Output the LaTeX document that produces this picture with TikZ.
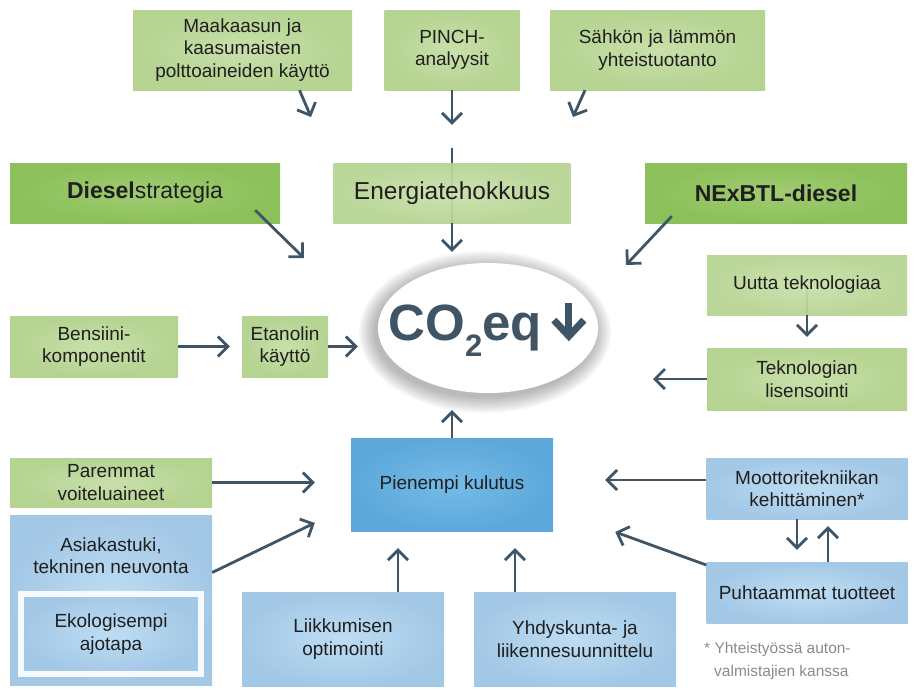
\documentclass[tikz,border=0pt]{standalone}
\usepackage{fontspec}
\setmainfont{Liberation Sans}
\usetikzlibrary{positioning, arrows.meta, shapes.geometric, backgrounds}

\definecolor{nuoli}{HTML}{3F5566}
\definecolor{vihrea}{HTML}{B5D391}
\definecolor{vihreakeski}{HTML}{C8E0AA}
\definecolor{tvihrea}{HTML}{8CC05A}
\definecolor{tvihreakeski}{HTML}{A0CC72}
\definecolor{sininen}{HTML}{A3C8E6}
\definecolor{sininenkeski}{HTML}{BEDDF3}
\definecolor{tsininen}{HTML}{5DA8DB}
\definecolor{tsininenkeski}{HTML}{74BBE7}
\definecolor{huomio}{HTML}{8A8A8A}

\tikzset{
  >={Straight Barb[length=10pt,width=20pt]},
  every node/.style={align=center, inner sep=0pt, text=black!88,
    font=\fontsize{19}{22.5}\selectfont},
  laatikko/.style={rectangle, minimum width=#1},
  vlaatikko/.style={laatikko=#1, inner color=vihreakeski, outer color=vihrea},
  tvlaatikko/.style={laatikko=#1, inner color=tvihreakeski, outer color=tvihrea,
    font=\fontsize{23}{26}\selectfont},
  slaatikko/.style={laatikko=#1, inner color=sininenkeski, outer color=sininen},
  nuolet/.style={->, draw=nuoli, line width=2.8pt},
}

\begin{document}
\begin{tikzpicture}[x=1pt, y=-1pt]
\useasboundingbox (0,0) rectangle (914,689);

% ylarivi
\node[vlaatikko=219, minimum height=80] (maakaasu) at (242.5,50) {Maakaasun ja\\kaasumaisten\\polttoaineiden käyttö};
\node[vlaatikko=135, minimum height=80] (pinch) at (452,50) {PINCH-\\analyysit};
\node[vlaatikko=215, minimum height=80] (sahko) at (657.5,50) {Sähkön ja lämmön\\yhteistuotanto};

\node[tvlaatikko=270, minimum height=60] (diesel) at (145,193) {\textbf{Diesel}strategia};
\node[vlaatikko=237, minimum height=60, fill opacity=0.93, text opacity=1,
  font=\fontsize{24.5}{26}\selectfont] (energia) at (452,193) {Energiatehokkuus};
\node[tvlaatikko=262, minimum height=60] (nexbtl) at (776,193) {\textbf{NExBTL-diesel}};

\node[vlaatikko=200, minimum height=60, fill opacity=0.93, text opacity=1] (uutta) at (807,285) {Uutta teknologiaa};
\node[vlaatikko=200, minimum height=62] (lisensointi) at (807,379) {Teknologian\\lisensointi};

\node[vlaatikko=168, minimum height=61] (bensiini) at (94,346.5) {Bensiini-\\komponentit};
\node[vlaatikko=86, minimum height=61] (etanoli) at (285,346.5) {Etanolin\\käyttö};

\node[ellipse, fill=white, minimum width=220, minimum height=130, inner xsep=-30pt, text=nuoli,
  font=\fontsize{51}{51}\selectfont\bfseries] (co2) at (488,328)
  {CO\raisebox{-0.32em}{\fontsize{31}{31}\selectfont 2}eq\,\tikz[baseline=0pt, x=1pt, y=1pt]{
    \draw[nuoli, line width=7pt] (0,37) -- (0,4);
    \draw[nuoli, line width=7pt, miter limit=4] (-15,20) -- (0,4) -- (15,20);}};

% alarivi
\node[laatikko=202, minimum height=93, inner color=tsininenkeski, outer color=tsininen] (pienempi) at (452,484.5) {Pienempi kulutus};

\node[vlaatikko=202, minimum height=49] (voitelu) at (111,482.5) {Paremmat\\voiteluaineet};
\node[slaatikko=202, minimum height=170] (asiakas) at (111,600.5) {};
\node (asiakasteksti) [below=22pt of asiakas.north] {Asiakastuki,\\tekninen neuvonta};
\node[slaatikko=180, minimum height=80, draw=white!90!sininen, line width=6pt] (ekolog) at (111,634) {Ekologisempi\\ajotapa};

\node[slaatikko=202, minimum height=94] (liikkuminen) at (343,639) {Liikkumisen\\optimointi};
\node[slaatikko=202, minimum height=94] (yhdyskunta) at (575,639) {Yhdyskunta- ja\\liikennesuunnittelu};

\node[slaatikko=201, minimum height=61] (moottori) at (807,488.5) {Moottoritekniikan\\kehittäminen*};
\node[slaatikko=201, minimum height=61] (puhtaammat) at (807,592.5) {Puhtaammat tuotteet};

\node[anchor=north west, align=left, text=huomio, font=\fontsize{15.5}{23}\selectfont] (huomautus) at (704,642)
  {* Yhteistyössä auton-\\\hspace{10pt}valmistajien kanssa};

\coordinate (maakaasukarki) at (311,117);
\coordinate (sahkokarki) at (573,117);
\coordinate (dieselkarki) at (304,258);
\coordinate (nexbtlkarki) at (626,265);
\coordinate (lisensointikarki) at (653,379);

\begin{scope}[on background layer]
  \foreach \s in {1,...,10}
    \fill[black, opacity=0.03] ([shift={(-3,4)}]co2.center) ellipse ({109+\s*1.7} and {64+\s*1.7});
  \draw[nuoli, line width=2.4pt] ([yshift=15pt]energia.north) -- (energia.south);
  \draw[nuoli, line width=2.4pt] (uutta.center) -- (uutta.south);
\end{scope}

\path ([xshift=57pt]maakaasu.south) edge[nuolet] (maakaasukarki)
      ([xshift=-72.5pt]sahko.south) edge[nuolet] (sahkokarki)
      ([shift={(-25pt,13pt)}]diesel.south east) edge[nuolet] (dieselkarki)
      ([shift={(27pt,7pt)}]nexbtl.south west) edge[nuolet] (nexbtlkarki)
      (lisensointi.west) edge[nuolet] (lisensointikarki);
\draw[nuolet, shorten >=38pt] (pinch.south) -- (energia.north);
\draw[nuolet, shorten >=11pt] (energia.south) -- (energia.south |- co2.north);
\draw[nuolet, shorten >=11pt] (uutta.south) -- (lisensointi.north);
\draw[nuolet, shorten >=12pt] (bensiini.east) -- (etanoli.west);
\draw[nuolet, shorten >=20pt] (etanoli.east) -- (etanoli.east -| co2.west);
\draw[nuolet, shorten >=17pt] (pienempi.north) -- (pienempi.north |- co2.south);

\draw[nuolet, shorten >=36pt] (voitelu.east) -- (voitelu.east -| pienempi.west);
\draw[nuolet, shorten >=40pt] ([yshift=28pt]asiakas.east) -- ([yshift=-21pt]pienempi.west);
\draw[nuolet, shorten >=17pt] ([xshift=55pt]liikkuminen.north) -- ([xshift=55pt]liikkuminen.north |- pienempi.south);
\draw[nuolet, shorten >=17pt] ([xshift=-60pt]yhdyskunta.north) -- ([xshift=-60pt]yhdyskunta.north |- pienempi.south);
\draw[nuolet, shorten >=52pt] ([yshift=8.5pt]moottori.west) -- ([yshift=8.5pt]moottori.west -| pienempi.east);
\draw[nuolet, shorten >=66pt] ([yshift=27.5pt]puhtaammat.west) -- ([yshift=-25pt]pienempi.east);
\draw[nuolet, shorten >=12pt] ([xshift=-10pt]moottori.south) -- ([xshift=-10pt]puhtaammat.north);
\draw[nuolet, shorten >=7pt] ([xshift=21pt]puhtaammat.north) -- ([xshift=21pt]moottori.south);
\end{tikzpicture}
\end{document}
